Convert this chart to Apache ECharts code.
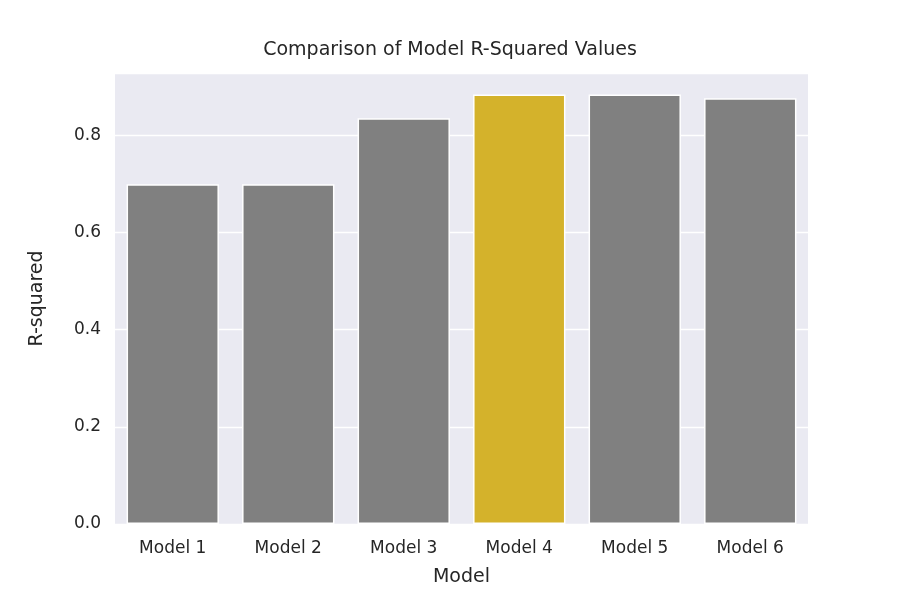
<!DOCTYPE html>
<html><head><meta charset="utf-8">
<script src="https://cdn.jsdelivr.net/npm/echarts@6/dist/echarts.min.js"></script>
<style>html,body{margin:0;padding:0;background:#fff}#c{width:900px;height:600px}</style>
</head><body><div id="c"></div>
<script>
const categories = ["Model 1","Model 2","Model 3","Model 4","Model 5","Model 6"];
const rSquared = [0.699, 0.699, 0.835, 0.884, 0.884, 0.876];
const highlightIndex = 3;
const chart = echarts.init(document.getElementById('c'));
chart.setOption({
  backgroundColor:'#fff',
  title:{text:'Comparison of Model R-Squared Values',left:'center',top:36,textStyle:{fontFamily:'DejaVu Sans',fontSize:19,fontWeight:'normal',color:'#262626'}},
  grid:{left:115,right:92,top:73,bottom:76,backgroundColor:'#eaeaf2',show:true,borderWidth:0},
  xAxis:{type:'category',data:categories,name:'Model',nameLocation:'middle',nameGap:44,
    nameTextStyle:{fontFamily:'DejaVu Sans',fontSize:19,color:'#262626'},
    axisLine:{show:false},axisTick:{show:false},
    axisLabel:{fontFamily:'DejaVu Sans',fontSize:17,color:'#262626',margin:16}},
  yAxis:{type:'value',min:0,max:0.928,interval:0.2,name:'R-squared',nameLocation:'middle',nameGap:68,
    nameTextStyle:{fontFamily:'DejaVu Sans',fontSize:19,color:'#262626'},
    axisLine:{show:false},axisTick:{show:false},
    axisLabel:{fontFamily:'DejaVu Sans',fontSize:17,color:'#262626',margin:14,formatter:v=>v.toFixed(1),showMaxLabel:false},
    splitLine:{lineStyle:{color:'#fff',width:1.3}}},
  series:[{type:'bar',barCategoryGap:'20%',
    data:rSquared.map((v,i)=>({value:v,itemStyle:{color:i===highlightIndex?'#d4b22b':'#808080'}})),
    itemStyle:{borderColor:'#fff',borderWidth:1.5}}]
});
</script></body></html>
